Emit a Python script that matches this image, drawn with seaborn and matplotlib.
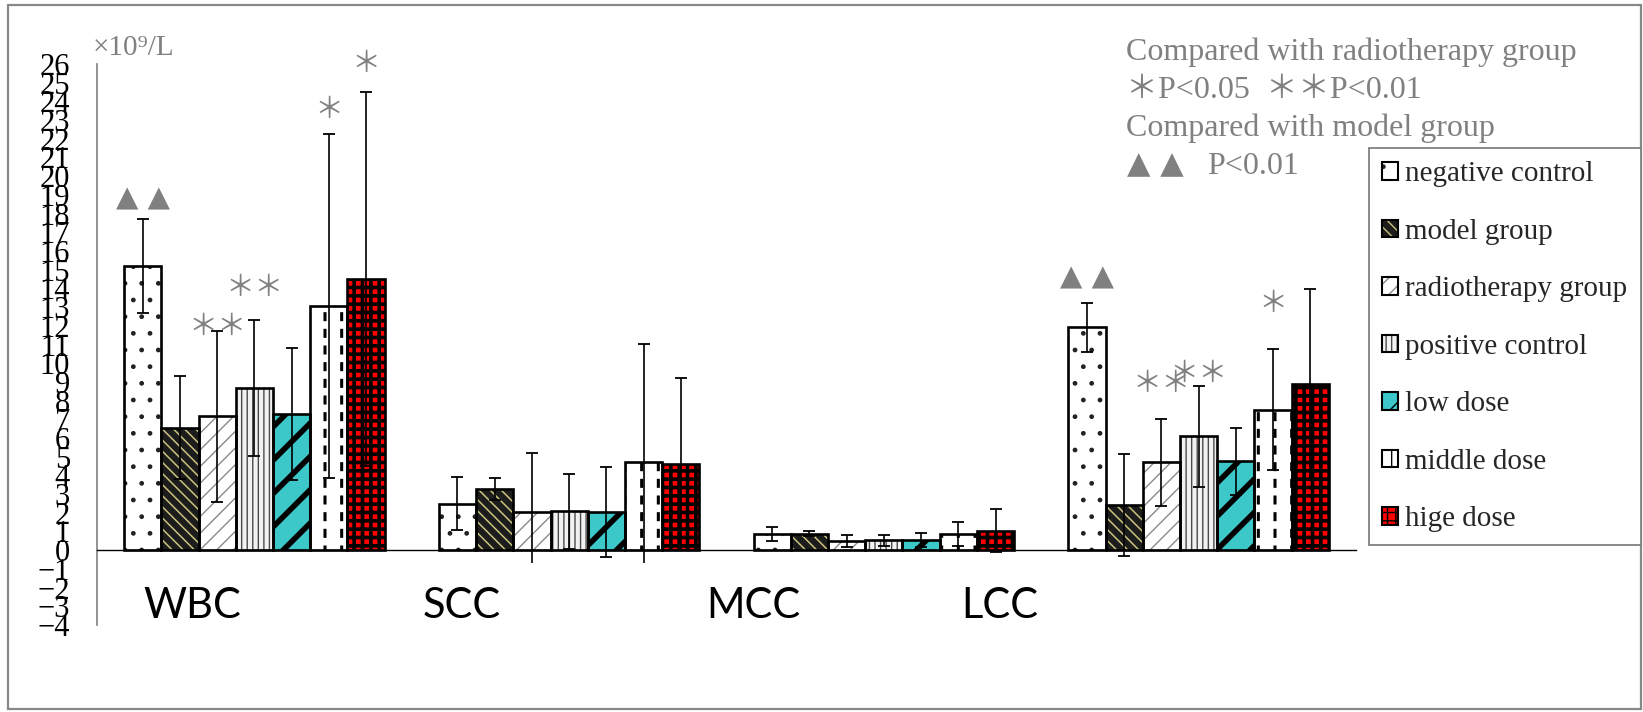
import numpy as np
import pandas as pd
import matplotlib
matplotlib.use("Agg")
import matplotlib.pyplot as plt
import seaborn as sns
from matplotlib.patches import Patch, Rectangle
from matplotlib.legend_handler import HandlerTuple
from matplotlib.transforms import Bbox, TransformedBbox

# ---------------- data ----------------
categories = ["WBC", "SCC", "MCC", "LCC"]
groups = ["negative control", "model group", "radiotherapy group",
          "positive control", "low dose", "middle dose", "hige dose"]

neg_mean = [15.20, 2.48, 0.86, 11.91]
model_mean = [6.56, 3.28, 0.89, 2.41]
radio_mean = [7.17, 2.03, 0.50, 4.69]
pos_mean = [8.68, 2.07, 0.53, 6.10]
low_mean = [7.27, 2.03, 0.53, 4.76]
mid_mean = [13.05, 4.69, 0.86, 7.52]
high_mean = [14.51, 4.60, 1.05, 8.88]

neg_sd = [2.50, 1.41, 0.39, 1.31]
model_sd = [2.73, 0.57, 0.13, 2.72]
radio_sd = [4.57, 3.19, 0.33, 2.30]
pos_sd = [3.65, 2.00, 0.30, 2.70]
low_sd = [3.52, 2.40, 0.38, 1.80]
mid_sd = [9.20, 6.36, 0.63, 3.24]
high_sd = [10.00, 4.60, 1.13, 5.10]

means = [neg_mean, model_mean, radio_mean, pos_mean, low_mean, mid_mean, high_mean]
sds = [neg_sd, model_sd, radio_sd, pos_sd, low_sd, mid_sd, high_sd]

# significance marks: (category, group, text, y)
marks = [
    ("WBC", "negative control", "▲ ▲", 18.36),
    ("WBC", "radiotherapy group", "＊＊", 11.94),
    ("WBC", "positive control", "＊＊", 14.00),
    ("WBC", "middle dose", "＊", 23.53),
    ("WBC", "hige dose", "＊", 26.03),
    ("LCC", "negative control", "▲ ▲", 14.17),
    ("LCC", "radiotherapy group", "＊＊", 8.91),
    ("LCC", "positive control", "＊＊", 9.45),
    ("LCC", "middle dose", "＊", 13.19),
]

note_lines = ["Compared with radiotherapy group",
              "＊P<0.05  ＊＊P<0.01",
              "Compared with model group",
              "P<0.01"]
note_tri = "▲ ▲"
unit_label = "×10⁹/L"

# ---------------- styles ----------------
styles = {
    "negative control":   dict(face="white",   hatch=".",    hcol="#222222", hlw=1.0),
    "model group":        dict(face="#1c1c1c", hatch="\\\\\\", hcol="#c9c27c", hlw=1.1),
    "radiotherapy group": dict(face="white",   hatch="//",   hcol="#8a8a8a", hlw=1.0),
    "positive control":   dict(face="#f2f2f2", hatch="|||",  hcol="#4a4a4a", hlw=1.0),
    "low dose":           dict(face="#3cc8c8", hatch="/",    hcol="black",   hlw=4.0),
    "middle dose":        dict(face="white",   hatch="|",    hcol="black",   hlw=2.2),
    "hige dose":          dict(face="#ff0000", hatch="++",   hcol="black",   hlw=2.6),
}

SERIF = ["Liberation Serif", "DejaVu Serif"]

sns.set_theme(style="white")
plt.rcParams["font.family"] = SERIF
plt.rcParams["axes.unicode_minus"] = True

W, H = 1643, 712
fig = plt.figure(figsize=(W / 100, H / 100), dpi=100)
fig.patch.set_facecolor("white")
ax = fig.add_axes([97 / W, (H - 625) / H, (1356 - 97) / W, (625 - 64) / H])

rows = []
for g, m in zip(groups, means):
    for c, v in zip(categories, m):
        rows.append({"category": c, "group": g, "value": v})
df = pd.DataFrame(rows)

sns.barplot(data=df, x="category", y="value", hue="group", order=categories,
            hue_order=groups, palette=[styles[g]["face"] for g in groups],
            width=0.828, errorbar=None, legend=False, saturation=1, ax=ax)

has_hlw = hasattr(Patch(), "set_hatch_linewidth")


def apply_style(p, st):
    p.set_facecolor(st["face"])
    p.set_hatch(st["hatch"])
    p.set_edgecolor(st["hcol"])
    p.set_linewidth(0)
    if has_hlw:
        p.set_hatch_linewidth(st["hlw"])


if not has_hlw:
    plt.rcParams["hatch.linewidth"] = 1.5

centers = {}
for g, cont, m, s in zip(groups, ax.containers, means, sds):
    st = styles[g]
    for r in cont:
        apply_style(r, st)
        r.set_zorder(2)
        cx = r.get_x() + r.get_width() / 2
        ci = int(round(cx))
        centers[(categories[ci], g)] = cx
        if g == "middle dose" and has_hlw:
            dash = Rectangle((r.get_x(), r.get_y()), r.get_width(), r.get_height(),
                             fill=False, edgecolor="white", linewidth=0, hatch="-", zorder=2.2)
            dash.set_hatch_linewidth(5.5)
            ax.add_patch(dash)
        ax.add_patch(Rectangle((r.get_x(), r.get_y()), r.get_width(), r.get_height(),
                               fill=False, edgecolor="black", linewidth=1.9, zorder=3))
    xs_sorted = [centers[(c, g)] for c in categories]
    eb = ax.errorbar(xs_sorted, m, yerr=s, fmt="none", ecolor="black",
                     elinewidth=1.2, capsize=4.3, capthick=1.3, zorder=4)
    tb = TransformedBbox(Bbox.from_extents(-0.5, -0.66, 3.5, 30), ax.transData)
    for art in list(eb.lines[1]) + list(eb.lines[2]):
        art.set_clip_box(tb)
        art.set_clip_on(True)

# significance marks
for cat, g, txt, y in marks:
    x = centers[(cat, g)]
    if "▲" in txt:
        ax.text(x, y, txt, ha="center", va="baseline", fontsize=21, color="#808080",
                family=["DejaVu Sans"], zorder=6)
    else:
        ax.text(x, y, txt, ha="center", va="center", fontsize=21, color="#808080",
                family=["Noto Sans CJK SC"], zorder=6)

# axes styling
ax.set_xlim(-0.5, 3.5)
ax.set_ylim(-4, 26)
ax.set_yticks(range(-4, 27))
ax.tick_params(axis="y", direction="in", length=5.8, width=1.0, color="#808080",
               labelsize=22, labelcolor="black", pad=19.4)
ax.set_xticks([])
ax.set_xticks([-0.5, 0.5, 1.5, 2.5, 3.5], minor=True)
ax.tick_params(axis="x", which="minor", direction="out", length=6.5, width=1.0,
               color="#808080")
for lab in ax.get_yticklabels():
    lab.set_fontfamily(SERIF)
ax.set_xlabel("")
ax.set_ylabel("")
for side in ["top", "right"]:
    ax.spines[side].set_visible(False)
ax.spines["left"].set_color("#808080")
ax.spines["left"].set_linewidth(1.2)
ax.spines["bottom"].set_position(("data", 0))
ax.spines["bottom"].set_color("black")
ax.spines["bottom"].set_linewidth(1.0)
ax.patch.set_alpha(0)

# category labels (placed as in the original figure)
label_x = [-0.198, 0.659, 1.586, 2.367]
for cat, xp in zip(categories, label_x):
    ax.text(xp, -3.64, cat, ha="center", va="baseline", fontsize=30,
            family=["Lato", "DejaVu Sans"], color="black")

# unit label
fig.text(93 / W, 1 - 55 / H, unit_label, ha="left", va="baseline", fontsize=21,
         color="#808080", family=SERIF)

# notes
for i, (line, base) in enumerate(zip(note_lines, [60, 98, 136, 174])):
    xpix = 1126 if i < 3 else 1207
    fig.text(xpix / W, 1 - base / H, line, ha="left", va="baseline", fontsize=23,
             color="#808080", family=["Liberation Serif", "Noto Sans CJK SC", "DejaVu Sans"])
fig.text(1127 / W, 1 - 173 / H, note_tri, ha="left", va="baseline", fontsize=22,
         color="#808080", family=["DejaVu Sans"])

# legend
handles = []
for g in groups:
    st = styles[g]
    hp = Patch(facecolor=st["face"], edgecolor=st["hcol"], hatch=st["hatch"], linewidth=0)
    op = Patch(fill=False, edgecolor="black", linewidth=1.5)
    handles.append((hp, op))
leg = fig.legend(handles, groups, loc="upper left",
                 bbox_to_anchor=(1369 / W, 1 - 148 / H), bbox_transform=fig.transFigure,
                 borderaxespad=0, frameon=True, fancybox=False, framealpha=1,
                 edgecolor="#808080", prop={"family": "Liberation Serif", "size": 21},
                 handlelength=0.55, handleheight=0.55, handletextpad=0.25,
                 labelspacing=1.08, borderpad=0.45,
                 handler_map={tuple: HandlerTuple(ndivide=1, pad=0)})
leg.get_frame().set_linewidth(1.3)

# outer border
fig.patches.append(Rectangle((8 / W, 3 / H), (1641 - 8) / W, (709 - 5) / H,
                             transform=fig.transFigure, fill=False,
                             edgecolor="#888888", linewidth=1.6))

fig.savefig("out.png", dpi=100, facecolor="white")
